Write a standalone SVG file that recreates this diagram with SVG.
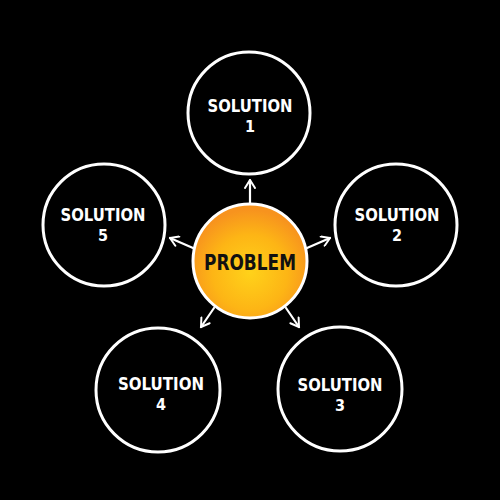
<svg xmlns="http://www.w3.org/2000/svg" width="500" height="500" viewBox="0 0 500 500">
  <defs>
    <radialGradient id="orange" cx="0.5" cy="0.6" r="0.55">
      <stop offset="0" stop-color="#FFD21A"/>
      <stop offset="0.6" stop-color="#FDB515"/>
      <stop offset="1" stop-color="#F7931E"/>
    </radialGradient>
    <marker id="arr" viewBox="0 0 12 12" refX="10" refY="6" markerWidth="12" markerHeight="12" markerUnits="userSpaceOnUse" orient="auto">
      <path d="M2,1 L10,6 L2,11" fill="none" stroke="#fff" stroke-width="2" stroke-linecap="round" stroke-linejoin="round"/>
    </marker>
  </defs>
  <style>
    .sol { fill: #000; stroke: #fff; stroke-width: 3; }
    .lbl { font-family: "DejaVu Sans Condensed", "DejaVu Sans", sans-serif; font-weight: bold; font-size: 17px; fill: #fff; text-anchor: middle; }
    .num { font-family: "DejaVu Sans Condensed", "DejaVu Sans", sans-serif; font-weight: bold; font-size: 16px; fill: #fff; text-anchor: middle; }
    .conn { stroke: #fff; stroke-width: 2.2; stroke-linecap: round; fill: none; marker-end: url(#arr); }
  </style>
  <rect width="500" height="500" fill="#000"/>

  <g id="connectors">
    <line class="conn" x1="250" y1="203" x2="250" y2="180"/>
    <line class="conn" x1="307" y1="248" x2="330" y2="238"/>
    <line class="conn" x1="193" y1="248" x2="170" y2="238"/>
    <line class="conn" x1="286" y1="308" x2="299" y2="327"/>
    <line class="conn" x1="214" y1="308" x2="201" y2="327"/>
  </g>

  <g id="problem">
    <circle cx="250" cy="261" r="57" fill="url(#orange)" stroke="#fff" stroke-width="3"/>
    <text x="250" y="270" font-family="'DejaVu Sans Condensed', 'DejaVu Sans', sans-serif" font-weight="bold" font-size="21" fill="#111" text-anchor="middle" textLength="92" lengthAdjust="spacingAndGlyphs">PROBLEM</text>
  </g>

  <g id="solution1">
    <circle class="sol" cx="249" cy="113" r="61"/>
    <text class="lbl" x="250" y="112" textLength="85" lengthAdjust="spacingAndGlyphs">SOLUTION</text>
    <text class="num" x="250" y="132">1</text>
  </g>

  <g id="solution2">
    <circle class="sol" cx="396" cy="225" r="61"/>
    <text class="lbl" x="397" y="221" textLength="85" lengthAdjust="spacingAndGlyphs">SOLUTION</text>
    <text class="num" x="397" y="241">2</text>
  </g>

  <g id="solution3">
    <circle class="sol" cx="340" cy="389" r="62"/>
    <text class="lbl" x="340" y="391" textLength="85" lengthAdjust="spacingAndGlyphs">SOLUTION</text>
    <text class="num" x="340" y="411">3</text>
  </g>

  <g id="solution4">
    <circle class="sol" cx="158" cy="390" r="62"/>
    <text class="lbl" x="161" y="390" textLength="86" lengthAdjust="spacingAndGlyphs">SOLUTION</text>
    <text class="num" x="161" y="410">4</text>
  </g>

  <g id="solution5">
    <circle class="sol" cx="104" cy="225" r="61"/>
    <text class="lbl" x="103" y="221" textLength="85" lengthAdjust="spacingAndGlyphs">SOLUTION</text>
    <text class="num" x="103" y="241">5</text>
  </g>
</svg>
